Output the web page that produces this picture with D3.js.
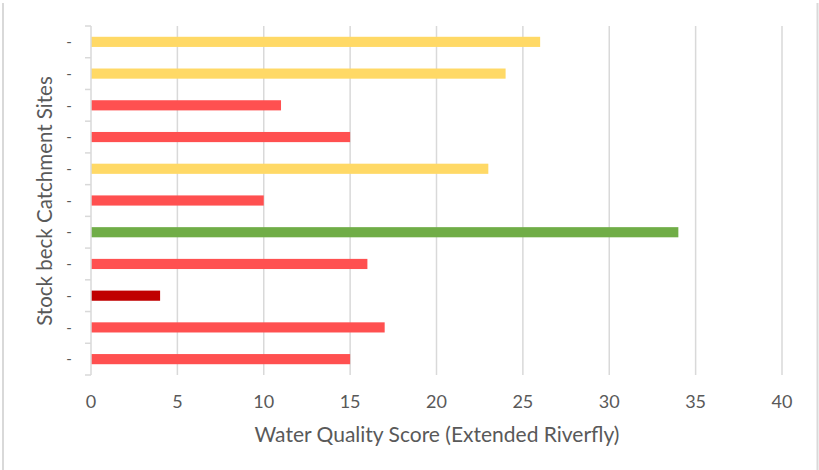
<!DOCTYPE html>
<html><head><meta charset="utf-8">
<script src="https://cdn.jsdelivr.net/npm/d3@7"></script>
<style>body{margin:0;background:#fff}svg{display:block}text{font-family:Lato,"Open Sans",sans-serif}</style>
</head><body><div id="c"></div>
<script>
const categories = ["s1","s2","s3","s4","s5","s6","s7","s8","s9","s10","s11"];
const categoryLabels = ["-","-","-","-","-","-","-","-","-","-","-"];
const scores = [26,24,11,15,23,10,34,16,4,17,15];
const scoreClass = ["moderate","moderate","poor","poor","moderate","poor","good","poor","bad","poor","poor"];
const classColors = {good:"#70AD47", moderate:"#FFD966", poor:"#FF5050", bad:"#C00000"};
const xTicks = [0,5,10,15,20,25,30,35,40];
const xTitle = "Water Quality Score (Extended Riverfly)";
const yTitle = "Stock beck Catchment Sites";

const W=819,H=470;
const m={left:91,right:37,top:26,bottom:95};
const svg=d3.select("#c").append("svg").attr("width",W).attr("height",H);
// chart border (left/right)
svg.append("line").attr("x1",3).attr("x2",3).attr("y1",3).attr("y2",H).attr("stroke","#d9d9d9").attr("stroke-width",2);
svg.append("line").attr("x1",817.5).attr("x2",817.5).attr("y1",3).attr("y2",H).attr("stroke","#d9d9d9").attr("stroke-width",2);

const x=d3.scaleLinear().domain([0,40]).range([m.left,W-m.right]);
const y=d3.scaleBand().domain(categories).range([m.top,H-m.bottom]).paddingInner(0.68).paddingOuter(0.34);
const y0=m.top,y1=H-m.bottom;

// gridlines
svg.append("g").selectAll("line").data(xTicks.filter(d=>d>0)).join("line")
 .attr("x1",d=>x(d)).attr("x2",d=>x(d)).attr("y1",y0).attr("y2",y1)
 .attr("stroke","#d9d9d9").attr("stroke-width",1.5);

// bars
svg.append("g").selectAll("rect").data(categories).join("rect")
 .attr("x",x(0)).attr("y",d=>y(d)).attr("height",y.bandwidth())
 .attr("width",(d,i)=>x(scores[i])-x(0))
 .attr("fill",(d,i)=>classColors[scoreClass[i]]);

// y axis line + ticks at band boundaries
const band=(y1-y0)/categories.length;
svg.append("line").attr("x1",x(0)).attr("x2",x(0)).attr("y1",y0).attr("y2",y1).attr("stroke","#d9d9d9").attr("stroke-width",1.5);
svg.append("g").selectAll("line").data(d3.range(categories.length+1)).join("line")
 .attr("x1",x(0)-6).attr("x2",x(0)).attr("y1",i=>y0+i*band).attr("y2",i=>y0+i*band)
 .attr("stroke","#d9d9d9").attr("stroke-width",1.5);
svg.append("g").selectAll("text").data(categories).join("text")
 .attr("x",69).attr("y",d=>y(d)+y.bandwidth()/2).attr("dy","0.35em").attr("text-anchor","middle")
 .attr("fill","#595959").attr("font-size",15).text((d,i)=>categoryLabels[i]);

// x tick labels
svg.append("g").selectAll("text").data(xTicks).join("text")
 .attr("x",d=>x(d)).attr("y",402).attr("dy","0.35em").attr("text-anchor","middle")
 .attr("fill","#595959").attr("font-size",18).text(d=>d);

svg.append("text").attr("x",437).attr("y",435).attr("dy","0.35em").attr("text-anchor","middle")
 .attr("fill","#595959").attr("font-size",21).text(xTitle);
svg.append("text").attr("transform","translate(45,201) rotate(-90)").attr("dy","0.35em").attr("text-anchor","middle")
 .attr("fill","#595959").attr("font-size",20.5).text(yTitle);
</script></body></html>
